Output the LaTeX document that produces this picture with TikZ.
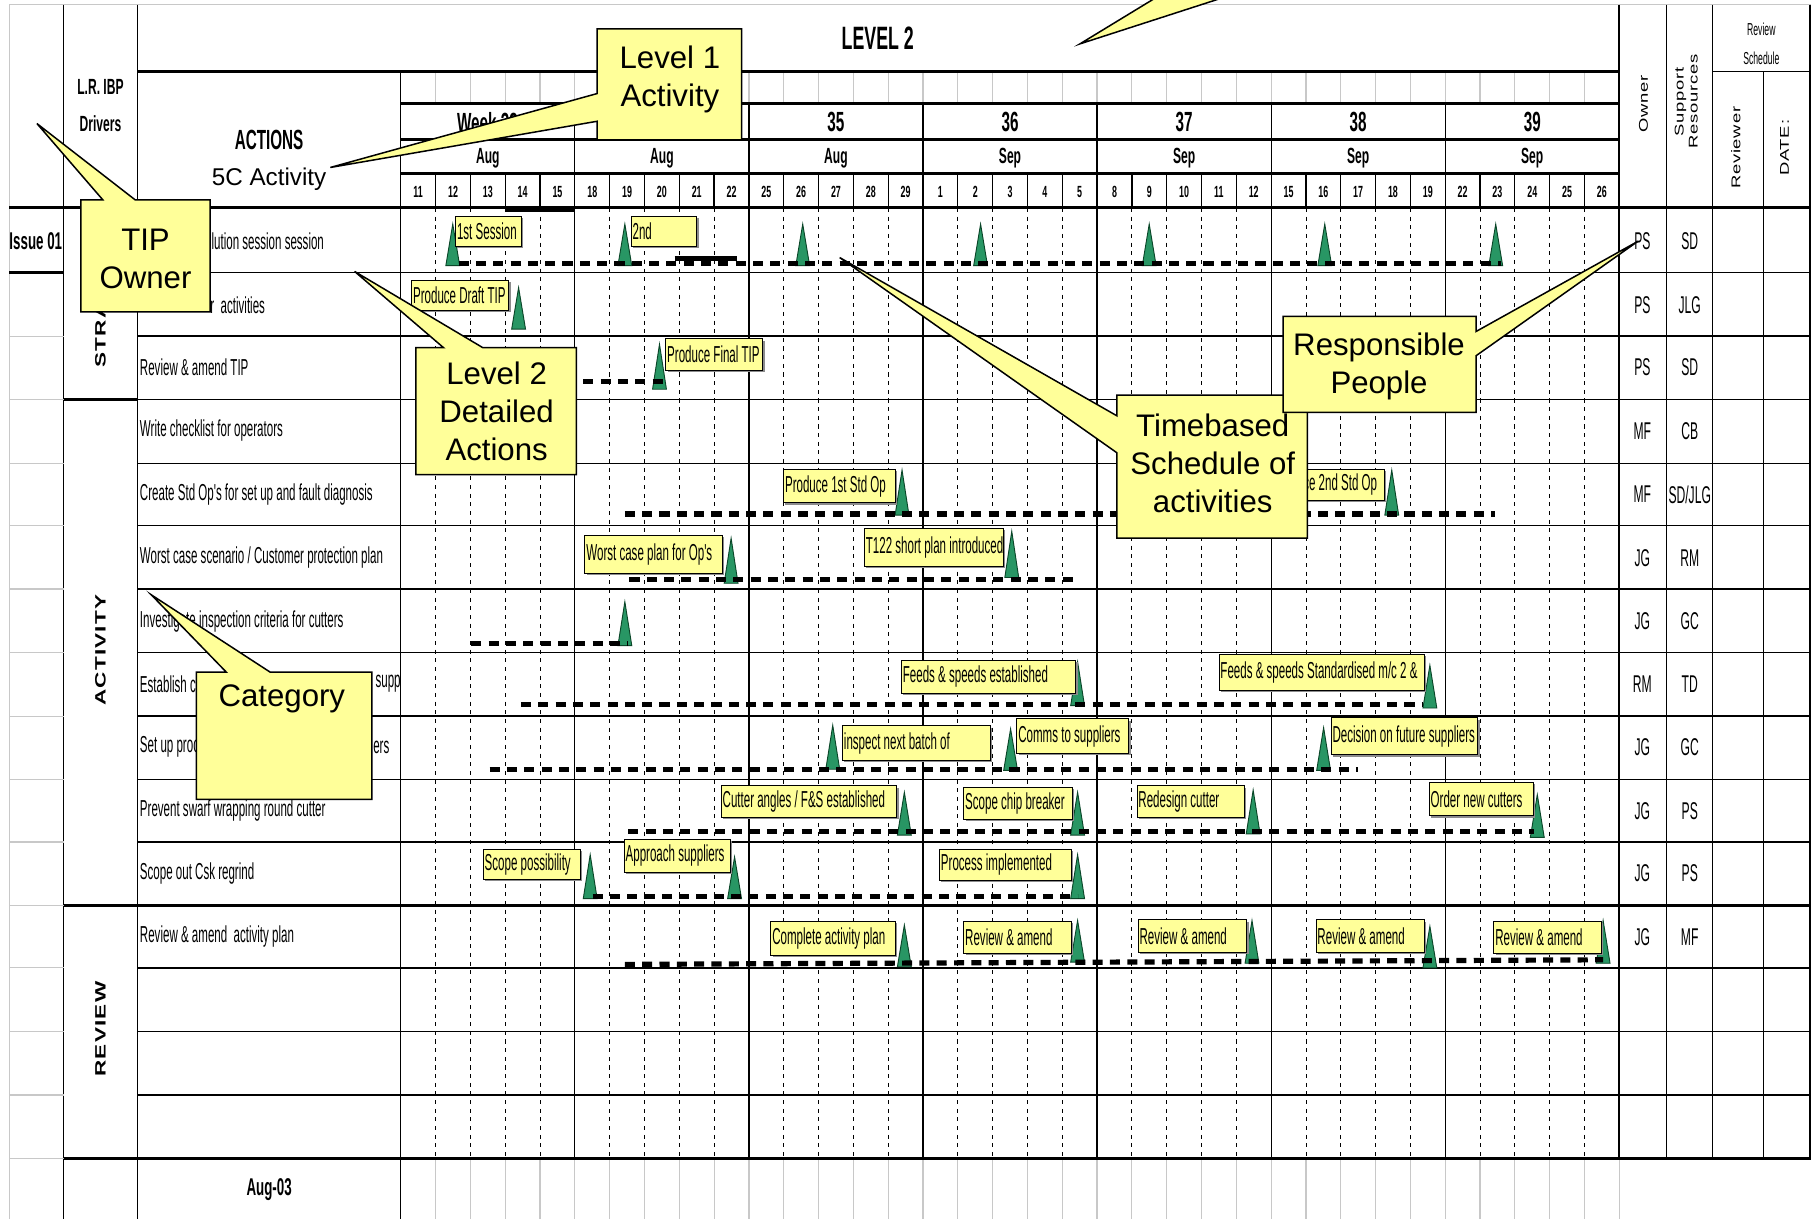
\documentclass[tikz,border=0pt]{standalone}
\usepackage{fontspec}
\setmainfont{Liberation Sans}
\newfontfamily\nf[FakeStretch=0.5]{Liberation Sans}
\newfontfamily\nfb[FakeStretch=0.55]{Liberation Sans}
\newfontfamily\rotf[FakeStretch=1.45,LetterSpace=6]{Liberation Sans}
\newfontfamily\rotb[FakeStretch=1.5,LetterSpace=8]{Liberation Sans}
\definecolor{callyellow}{RGB}{255,255,153}
\definecolor{lblyellow}{RGB}{255,255,153}
\definecolor{msgreen}{RGB}{40,150,100}
\definecolor{msedge}{RGB}{10,70,40}
\definecolor{gridgray}{RGB}{200,200,200}
\tikzset{
 thinline/.style={line width=1.1pt, black},
 thickline/.style={line width=2.6pt, black},
 grayline/.style={line width=1pt, gridgray},
 daydash/.style={line width=0.7pt, dash pattern=on 3.5pt off 4pt, black},
 dashbar/.style={line width=4.5pt, dash pattern=on 8.7pt off 6.3pt, black},
 mstone/.style={fill=msgreen, draw=msedge, line width=0.8pt, line join=miter},
 lblbox/.style={draw=black, line width=0.8pt, fill=lblyellow, inner sep=0pt},
 lbltxt/.style={font=\nf\fontsize{20}{22}\selectfont, inner sep=0pt, anchor=west},
 shadowbox/.style={fill=black!45},
 callshape/.style={fill=callyellow, draw=black, line width=1.3pt, line join=miter},
 calltxt/.style={font=\fontsize{27}{33}\selectfont, align=center, inner sep=0pt},
 acttxt/.style={font=\nf\fontsize{20}{22}\selectfont, anchor=west, inner sep=0pt},
 owntxt/.style={font=\nf\fontsize{21}{24}\selectfont, inner sep=0pt},
 daytxt/.style={font=\nfb\bfseries\fontsize{14}{16}\selectfont, inner sep=0pt},
 weektxt/.style={font=\nfb\bfseries\fontsize{24}{26}\selectfont, inner sep=0pt},
 monthtxt/.style={font=\nfb\bfseries\fontsize{19}{21}\selectfont, inner sep=0pt},
 hdrtxt/.style={font=\nfb\bfseries\fontsize{19}{32}\selectfont, align=center, inner sep=0pt},
 bigtxt/.style={font=\nfb\bfseries\fontsize{28}{30}\selectfont, inner sep=0pt},
 acthdr/.style={font=\nfb\bfseries\fontsize{24}{26}\selectfont, inner sep=0pt},
 boldnar/.style={font=\nfb\bfseries\fontsize{21}{24}\selectfont, inner sep=0pt},
 cattxt/.style={font=\rotb\bfseries\fontsize{13}{15}\selectfont, rotate=90, inner sep=0pt},
 rottxt/.style={font=\rotf\fontsize{11}{12}\selectfont, rotate=90, align=center, inner sep=0pt},
 schedtxt/.style={font=\nf\fontsize{15}{25}\selectfont, align=center, inner sep=0pt},
}
\newcommand\mylbl[6]{%
 \fill[shadowbox] (#2+2,#3+2) rectangle (#4+2,#5+2);
 \node[lblbox, anchor=north west, minimum width=#4-#2, minimum height=#5-#3] (#1) at (#2,#3) {};
 \node[lbltxt] (#1t) at ([xshift=1.5pt]#1.west) {#6};
}
\newcommand\mst[3]{\filldraw[mstone] (#1,#2) -- (#1-6,#3) -- (#1+6,#3) -- cycle;}
\begin{document}
\begin{tikzpicture}[x=1pt,y=-1pt]
\useasboundingbox (0,0) rectangle (1568,1055);
\clip (0,0) rectangle (1568,1055);
\fill[white] (0,0) rectangle (1568,1055);

% frame
\draw[grayline] (8,1055) -- (8,4) -- (1568,4);
\draw[thinline] (1567,4) -- (1567,1003);

% gray day lines (top empty row, bottom row)
\foreach \i in {1,...,34} {\draw[grayline] (347+\i*30.142857,62) -- (347+\i*30.142857,90);}
\foreach \i in {1,...,35} {\draw[grayline] (347+\i*30.142857,1003) -- (347+\i*30.142857,1055);}

% day / week vertical lines
\foreach \i in {1,...,34} {
  \pgfmathtruncatemacro\r{mod(\i,5)}
  \ifnum\r=0
    \draw[thinline] (347+\i*30.142857,90) -- (347+\i*30.142857,1003);
  \else
    \draw[thinline] (347+\i*30.142857,150) -- (347+\i*30.142857,180);
    \draw[daydash] (347+\i*30.142857,180) -- (347+\i*30.142857,1003);
  \fi
}

% main verticals
\draw[thinline] (55,4) -- (55,1055);
\draw[thinline] (119,4) -- (119,1055);
\draw[thinline] (347,62) -- (347,1055);
\draw[line width=1.6pt] (1402,4) -- (1402,1003);
\draw[thinline] (1443,4) -- (1443,1003);
\draw[thinline] (1483,4) -- (1483,1003);
\draw[thinline] (1527,62) -- (1527,1003);

% horizontals
\draw[thickline] (119,62) -- (1402,62);
\draw[thinline] (1483,62) -- (1568,62);
\draw[thickline] (347,90) -- (1402,90);
\draw[thickline] (347,121) -- (1402,121);
\draw[thickline] (347,150) -- (1402,150);
\foreach \y in {236,291,346,401,455,510,565,620,675,729,838,893,948}
  {\draw[thinline] (119,\y) -- (1568,\y);}
\foreach \y in {291,346,401,455,510,565,620,675,729,784,838,893,948,1003}
  {\draw[grayline] (8,\y) -- (55,\y);}
\draw[thickline] (8,180) -- (1568,180);
\draw[thickline] (8,236) -- (55,236);
\draw[thickline] (55,346) -- (119,346);
\draw[thickline] (55,784) -- (1568,784);
\draw[thickline] (55,1003) -- (1568,1003);
\draw[line width=3pt] (437,182) -- (497,182);

% header texts
\node[bigtxt] (lvl2) at (760,33) {LEVEL 2};
\node[hdrtxt] (lrdrv) at (87,91) {L.R. IBP\\Drivers};
\node[acthdr] (acth) at (233,121) {ACTIONS};
\node[font=\fontsize{21}{24}\selectfont, inner sep=0pt] (c5) at (233,155) {5C Activity};
\node[weektxt] (wk33) at (422,106) {Week 33};
\foreach \w [count=\k from 2] in {35,36,37,38,39}
  {\node[weektxt] (wk\w) at (347+\k*150.714+75.36,106) {\w};}
\foreach \m [count=\k from 0] in {Aug,Aug,Aug,Sep,Sep,Sep,Sep}
  {\node[monthtxt] (mo\k) at (347+\k*150.714+75.36,137) {\m};}
\foreach \d [count=\k from 0] in {11,12,13,14,15,18,19,20,21,22,25,26,27,28,29,1,2,3,4,5,8,9,10,11,12,15,16,17,18,19,22,23,24,25,26}
  {\node[daytxt] (dy\k) at (347+\k*30.142857+15.07,166) {\d};}
\node[rottxt] (own) at (1423,90) {Owner};
\node[rottxt] (sup) at (1460,88) {Support\\Resources};
\node[rottxt] (revw) at (1503,128) {Reviewer};
\node[rottxt] (datec) at (1545,128) {DATE:};
\node[schedtxt] (rsch) at (1525,38) {Review\\Schedule};

% left column texts
\node[boldnar] (iss) at (31,209) {Issue 01};
\node[cattxt] (cstr) at (87,262) {STRATEGY};
\node[cattxt] (cact) at (87,563) {ACTIVITY};
\node[cattxt] (crev) at (87,891) {REVIEW};
\node[boldnar] (aug03) at (233,1030) {Aug-03};

% action texts
\node[acttxt] (a1) at (183,209) {lution session session};
\node[acttxt] (a2) at (182,264) {r\ \ activities};
\node[acttxt] (a3) at (121,318) {Review \& amend TIP};
\node[acttxt] (a4) at (121,373) {Write checklist for operators};
\node[acttxt] (a5) at (121,428) {Create Std Op's for set up and fault diagnosis};
\node[acttxt] (a6) at (121,483) {Worst case scenario / Customer protection plan};
\node[acttxt] (a7) at (121,538) {Investigate inspection criteria for cutters};
\node[acttxt] (a8) at (121,592) {Establish c};
\node[acttxt] (a8b) at (325,592) {supp};
\node[acttxt] (a9) at (121,647) {Set up proc};
\node[acttxt] (a9b) at (323,647) {ers};
\node[acttxt] (a10) at (121,702) {Prevent swarf wrapping round cutter};
\node[acttxt] (a11) at (121,756) {Scope out Csk regrind};
\node[acttxt] (a12) at (121,811) {Review \& amend\ \ activity plan};

% owners / support
\foreach \o/\s/\y [count=\k] in {PS/SD/209, PS/JLG/264, PS/SD/318, MF/CB/373, MF/SD\slash JLG/428, JG/RM/483, JG/GC/538, RM/TD/592, JG/GC/647, JG/PS/702, JG/PS/756, JG/MF/811} {
  \node[owntxt] (o\k) at (1422,\y) {\o};
  \node[owntxt] (s\k) at (1463,\y) {\s};
}

% milestones
\foreach \x in {392,541,695,849,995,1147,1295} {\mst{\x}{194}{230}}
\mst{449}{249}{285}
\mst{571}{298}{337}
\mst{781}{407}{446}
\mst{1205}{407}{446}
\mst{633}{466}{505}
\mst{876}{460}{500}
\mst{541}{521}{559}
\mst{933}{573}{611}
\mst{1238}{576}{613}
\mst{721}{628}{666}
\mst{875}{631}{667}
\mst{1146}{630}{667}
\mst{783}{686}{723}
\mst{933}{686}{723}
\mst{1085}{684}{722}
\mst{1331}{688}{725}
\mst{511}{740}{778}
\mst{636}{742}{778}
\mst{933}{740}{778}
\mst{783}{801}{837}
\mst{933}{797}{833}
\mst{1084}{797}{834}
\mst{1238}{802}{838}
\mst{1388}{797}{834}

% bars
\draw[line width=4pt] (584,224) -- (638,224);
\draw[dashbar] (397,228) -- (1300,228);
\draw[dashbar] (505,330) -- (574,330);
\draw[dashbar] (541,445) -- (1294,445);
\draw[dashbar] (545,502) -- (934,502);
\draw[dashbar] (408,557) -- (544,557);
\draw[dashbar] (451,610) -- (1232,610);
\draw[dashbar] (424,666) -- (1176,666);
\draw[dashbar] (544,720) -- (1328,720);
\draw[dashbar] (513,776) -- (933,776);
\draw[dashbar] (541,835) -- (1388,831);

% labels
\mylbl{l1}{394}{187}{451}{213}{1st Session}
\mylbl{l2}{546}{187}{603}{213}{2nd}
\mylbl{l3}{356}{242}{440}{268}{Produce Draft TIP}
\mylbl{l4}{576}{293}{660}{320}{Produce Final TIP}
\mylbl{l5}{678}{406}{775}{435}{Produce 1st Std Op}
\mylbl{l6}{1100}{406}{1198}{433}{Produce 2nd Std Op}
\mylbl{l7}{506}{463}{625}{496}{Worst case plan for Op's}
\mylbl{l8}{748}{457}{868}{490}{T122 short plan introduced}
\mylbl{l9}{780}{571}{931}{600}{Feeds \& speeds established}
\mylbl{l10}{1055}{566}{1233}{597}{Feeds \& speeds Standardised m/c 2 \&}
\mylbl{l11}{729}{628}{857}{658}{inspect next batch of}
\mylbl{l12}{880}{622}{977}{652}{Comms to suppliers}
\mylbl{l13}{1152}{621}{1279}{653}{Decision on future suppliers}
\mylbl{l14}{624}{680}{776}{707}{Cutter angles / F\&S established}
\mylbl{l15}{834}{681}{928}{709}{Scope chip breaker}
\mylbl{l16}{984}{680}{1077}{707}{Redesign cutter}
\mylbl{l17}{1237}{677}{1327}{706}{Order new cutters}
\mylbl{l18}{418}{735}{502}{761}{Scope possibility}
\mylbl{l19}{540}{726}{632}{755}{Approach suppliers}
\mylbl{l20}{813}{735}{927}{762}{Process implemented}
\mylbl{l21}{667}{797}{775}{827}{Complete activity plan}
\mylbl{l22}{834}{797}{927}{825}{Review \& amend}
\mylbl{l23}{985}{796}{1079}{824}{Review \& amend}
\mylbl{l24}{1139}{796}{1233}{824}{Review \& amend}
\mylbl{l25}{1293}{797}{1386}{825}{Review \& amend}

% callouts
\filldraw[callshape] (70,173) -- (89,173) -- (32,107) -- (117,173) -- (182,173) -- (182,270) -- (70,270) -- cycle;
\node[calltxt] (cTIP) at (126,224) {TIP\\Owner};

\filldraw[callshape] (517,25) -- (642,25) -- (642,121) -- (517,121) -- (517,105) -- (286,145) -- (517,81) -- cycle;
\node[calltxt] (cL1) at (580,69) {Level 1\\Activity};

\filldraw[callshape] (360,301) -- (384,301) -- (307,235) -- (418,301) -- (499,301) -- (499,411) -- (360,411) -- cycle;
\node[calltxt] (cL2) at (430,356) {Level 2\\Detailed\\Actions};

\filldraw[callshape] (967,342) -- (1132,342) -- (1132,466) -- (967,466) -- (967,392) -- (727,223) -- (967,360) -- cycle;
\node[calltxt] (cTB) at (1050,401) {Timebased\\Schedule of\\activities};

\filldraw[callshape] (1111,274) -- (1278,274) -- (1278,287) -- (1418,209) -- (1278,308) -- (1278,357) -- (1111,357) -- cycle;
\node[calltxt] (cRP) at (1194,317) {Responsible\\People};

\filldraw[callshape] (170,582) -- (196,582) -- (131,515) -- (234,582) -- (322,582) -- (322,692) -- (170,692) -- cycle;
\node[calltxt] (cCat) at (244,605) {Category};

\fill[callyellow] (935,38) -- (1004,-4) -- (1065,-4) -- cycle;
\draw[line width=1.3pt] (1004,-4) -- (935,38) -- (1065,-4);
\end{tikzpicture}
\end{document}
